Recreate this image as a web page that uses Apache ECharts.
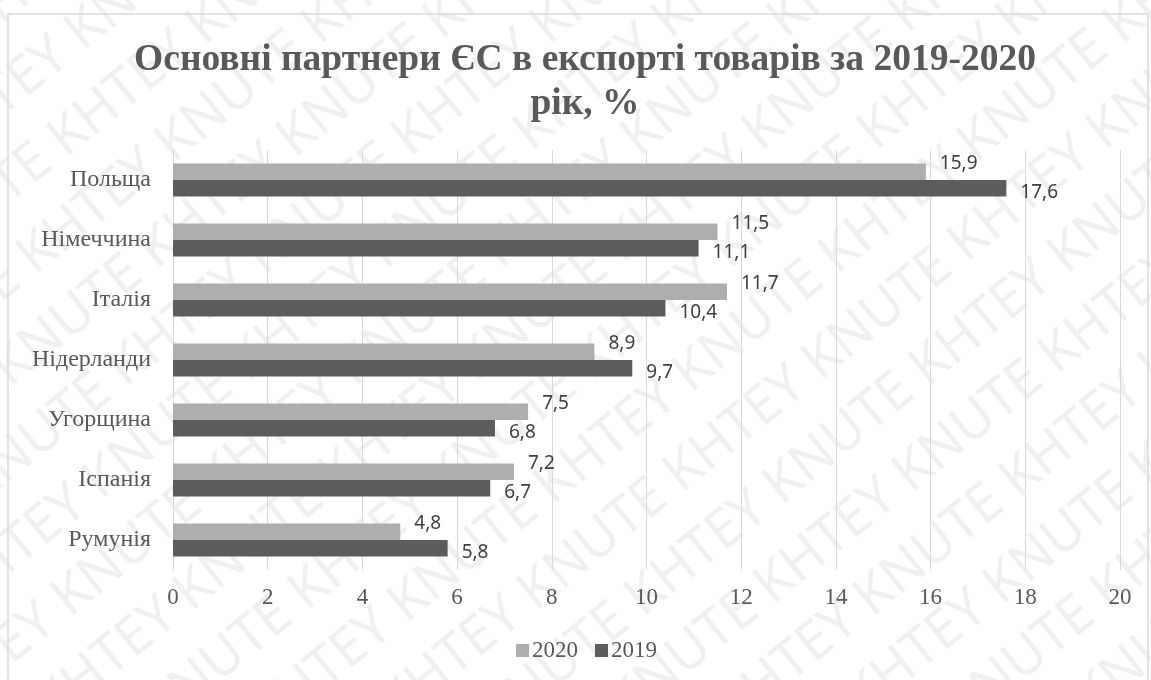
<!DOCTYPE html>
<html>
<head>
<meta charset="utf-8">
<script src="https://cdn.jsdelivr.net/npm/echarts@6/dist/echarts.min.js"></script>
<style>
  html, body { margin: 0; padding: 0; background: #fff; }
  #main { width: 1151px; height: 680px; }
</style>
</head>
<body>
<div id="main"></div>
<script>
// дані з діаграми
var countries = ['Польща', 'Німеччина', 'Італія', 'Нідерланди', 'Угорщина', 'Іспанія', 'Румунія'];
var values2020 = [15.9, 11.5, 11.7, 8.9, 7.5, 7.2, 4.8];
var values2019 = [17.6, 11.1, 10.4, 9.7, 6.8, 6.7, 5.8];
var xTicks = [0, 2, 4, 6, 8, 10, 12, 14, 16, 18, 20];

var serif = '"Liberation Serif", "Times New Roman", serif';
var sans = '"Noto Sans", "Open Sans", sans-serif';

function fmt(v) {
    return String(v).replace('.', ',');
}

// водяний знак KNUTE / KHTEY
var wmLines = [];
for (var i = -12; i <= 12; i++) {
    var word = (i % 2 === 0) ? 'KNUTE KHTEY ' : 'KHTEY KNUTE ';
    var s = '';
    for (var k = 0; k < 10; k++) s += word;
    wmLines.push({
        type: 'text',
        x: -1300 + (i % 2) * 80,
        y: i * 72,
        style: {
            text: s,
            font: '54px ' + sans,
            fill: 'rgba(150,150,150,0.14)'
        },
        silent: true
    });
}

var myChart = echarts.init(document.getElementById('main'));
myChart.setOption({
    backgroundColor: '#ffffff',
    animation: false,
    title: {
        text: 'Основні партнери ЄС в експорті товарів за 2019-2020\nрік, %',
        left: 580,
        top: 33,
        textAlign: 'center',
        textStyle: {
            fontFamily: serif,
            fontWeight: 'bold',
            fontSize: 37.5,
            lineHeight: 44,
            color: '#595959'
        }
    },
    legend: {
        data: ['2020', '2019'],
        top: 634,
        left: 511,
        itemWidth: 13,
        itemHeight: 13,
        itemGap: 17,
        icon: 'rect',
        textStyle: { fontFamily: serif, fontSize: 23, color: '#595959', padding: [0, 0, 0, -2] }
    },
    grid: { left: 173, right: 31, top: 150, bottom: 110 },
    xAxis: {
        type: 'value',
        min: xTicks[0],
        max: xTicks[xTicks.length - 1],
        interval: 2,
        axisLine: { show: false },
        axisTick: { show: false },
        axisLabel: { fontFamily: serif, fontSize: 23, color: '#595959', margin: 16 },
        splitLine: { lineStyle: { color: '#d9d9d9', width: 1 } }
    },
    yAxis: {
        type: 'category',
        data: countries,
        inverse: true,
        axisLine: { show: true, lineStyle: { color: '#d9d9d9' } },
        axisTick: { show: false },
        axisLabel: { fontFamily: serif, fontSize: 24, color: '#595959', margin: 22 }
    },
    series: [
        {
            name: '2020',
            type: 'bar',
            data: values2020,
            barGap: '0%',
            barCategoryGap: '45%',
            itemStyle: { color: '#aeaeae' },
            label: {
                show: true,
                position: 'right',
                distance: 14,
                offset: [0, -8],
                fontFamily: sans,
                fontSize: 19,
                color: '#404040',
                formatter: function (p) { return fmt(p.value); }
            }
        },
        {
            name: '2019',
            type: 'bar',
            data: values2019,
            itemStyle: { color: '#5c5c5c' },
            label: {
                show: true,
                position: 'right',
                distance: 14,
                offset: [0, 4],
                fontFamily: sans,
                fontSize: 19,
                color: '#404040',
                formatter: function (p) { return fmt(p.value); }
            }
        }
    ],
    graphic: [
        {
            type: 'rect',
            shape: { x: 8, y: 14, width: 1140, height: 700 },
            style: { fill: 'none', stroke: '#d9d9d9', lineWidth: 1.5 },
            silent: true,
            z: 100
        },
        {
            type: 'group',
            x: 575,
            y: 340,
            rotation: 0.68,
            z: 200,
            silent: true,
            children: wmLines
        }
    ]
});
</script>
</body>
</html>
